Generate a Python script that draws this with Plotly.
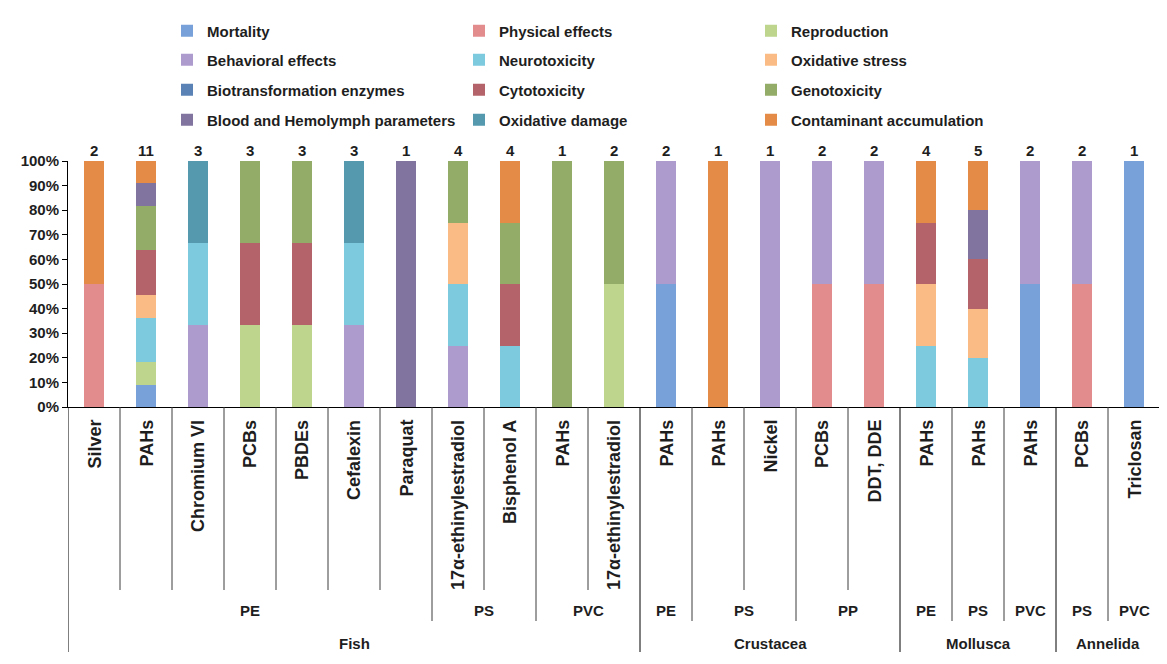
import plotly.graph_objects as go

# ---------------- data ----------------
contaminants = ["Silver", "PAHs", "Chromium VI", "PCBs", "PBDEs", "Cefalexin", "Paraquat",
                "17α-ethinylestradiol", "Bisphenol A", "PAHs", "17α-ethinylestradiol",
                "PAHs", "PAHs", "Nickel", "PCBs", "DDT, DDE",
                "PAHs", "PAHs", "PAHs", "PCBs", "Triclosan"]
polymers = ["PE", "PE", "PE", "PE", "PE", "PE", "PE", "PS", "PS", "PVC", "PVC",
            "PE", "PS", "PS", "PP", "PP", "PE", "PS", "PVC", "PS", "PVC"]
taxa = ["Fish"] * 11 + ["Crustacea"] * 5 + ["Mollusca"] * 3 + ["Annelida"] * 2

# number of studies per effect category for each bar
mortality =    [0, 1, 0, 0, 0, 0, 0, 0, 0, 0, 0, 1, 0, 0, 0, 0, 0, 0, 1, 0, 1]
physical =     [1, 0, 0, 0, 0, 0, 0, 0, 0, 0, 0, 0, 0, 0, 1, 1, 0, 0, 0, 1, 0]
reproduction = [0, 1, 0, 1, 1, 0, 0, 0, 0, 0, 1, 0, 0, 0, 0, 0, 0, 0, 0, 0, 0]
behavioral =   [0, 0, 1, 0, 0, 1, 0, 1, 0, 0, 0, 1, 0, 1, 1, 1, 0, 0, 1, 1, 0]
neurotox =     [0, 2, 1, 0, 0, 1, 0, 1, 1, 0, 0, 0, 0, 0, 0, 0, 1, 1, 0, 0, 0]
oxstress =     [0, 1, 0, 0, 0, 0, 0, 1, 0, 0, 0, 0, 0, 0, 0, 0, 1, 1, 0, 0, 0]
biotrans =     [0, 0, 0, 0, 0, 0, 0, 0, 0, 0, 0, 0, 0, 0, 0, 0, 0, 0, 0, 0, 0]
cytotox =      [0, 2, 0, 1, 1, 0, 0, 0, 1, 0, 0, 0, 0, 0, 0, 0, 1, 1, 0, 0, 0]
genotox =      [0, 2, 0, 1, 1, 0, 0, 1, 1, 1, 1, 0, 0, 0, 0, 0, 0, 0, 0, 0, 0]
blood =        [0, 1, 0, 0, 0, 0, 1, 0, 0, 0, 0, 0, 0, 0, 0, 0, 0, 1, 0, 0, 0]
oxdamage =     [0, 0, 1, 0, 0, 1, 0, 0, 0, 0, 0, 0, 0, 0, 0, 0, 0, 0, 0, 0, 0]
contaminant =  [1, 1, 0, 0, 0, 0, 0, 0, 1, 0, 0, 0, 1, 0, 0, 0, 1, 1, 0, 0, 0]

effect_names = ["Mortality", "Physical effects", "Reproduction",
                "Behavioral effects", "Neurotoxicity", "Oxidative stress",
                "Biotransformation enzymes", "Cytotoxicity", "Genotoxicity",
                "Blood and Hemolymph parameters", "Oxidative damage", "Contaminant accumulation"]
effect_values = [mortality, physical, reproduction, behavioral, neurotox, oxstress,
                 biotrans, cytotox, genotox, blood, oxdamage, contaminant]
effect_colors = ["#77a1d8", "#e38c8e", "#bdd58c",
                 "#ae9bce", "#7dc9de", "#fbbb85",
                 "#5b82b5", "#b5636a", "#93ac67",
                 "#81749f", "#5499ae", "#e38b47"]

# ---------------- layout constants ----------------
# the page body has an 8px margin, so the figure is drawn 8px right/down of the window origin
OFF = 8
W, H = 1167 - OFF, 664 - OFF
ML, MR, MT, MB = 68 - OFF, 7, 161 - OFF, 257
PW = W - ML - MR
PH = H - MT - MB


def py(p):
    """window pixel y -> paper y"""
    return (H - MB - (p - OFF)) / PH


def px(p):
    """window pixel x -> paper x"""
    return ((p - OFF) - ML) / PW


FONT = "Liberation Sans, Arial, sans-serif"
TXT = "#1e1e1e"

n = len(contaminants)
xs = list(range(n))
totals = [sum(v[i] for v in effect_values) for i in range(n)]

fig = go.Figure()
legends = ["legend", "legend2", "legend3", "legend4"]
for k, (name, vals, col) in enumerate(zip(effect_names, effect_values, effect_colors)):
    fig.add_trace(go.Bar(
        x=xs, y=vals, name=name, width=0.4,
        marker=dict(color=col, line=dict(width=0)),
        legend=legends[k // 3], hoverinfo="skip",
    ))

annotations = []
# totals above bars
for i, t in enumerate(totals):
    annotations.append(dict(x=i, y=100, xref="x", yref="y", text=f"<b>{t}</b>",
                            showarrow=False, yanchor="bottom", yshift=0,
                            font=dict(size=15, color=TXT, family=FONT)))
# contaminant labels (rotated)
for i, c in enumerate(contaminants):
    annotations.append(dict(x=i, y=py(418), xref="x", yref="paper", text=f"<b>{c}</b>",
                            showarrow=False, textangle=-90, yanchor="top", xanchor="center",
                            font=dict(size=18, color=TXT, family=FONT)))


def groups(labels):
    out = []
    start = 0
    for i in range(1, n + 1):
        if i == n or labels[i] != labels[start]:
            out.append((start, i - 1, labels[start]))
            start = i
    return out


poly_key = [f"{t}|{p}" for t, p in zip(taxa, polymers)]
for s, e, key in groups(poly_key):
    annotations.append(dict(x=(s + e) / 2, y=py(610), xref="x", yref="paper",
                            text=f"<b>{key.split('|')[1]}</b>", showarrow=False,
                            yanchor="middle", font=dict(size=15, color=TXT, family=FONT)))
for s, e, key in groups(taxa):
    annotations.append(dict(x=(s + e) / 2, y=py(643), xref="x", yref="paper",
                            text=f"<b>{key}</b>", showarrow=False,
                            yanchor="middle", font=dict(size=15, color=TXT, family=FONT)))

# separator lines
shapes = []
for b in range(0, n + 1):
    x = b - 0.5
    if b == 0 or b == n or taxa[b] != taxa[b - 1]:
        bottom = 652
    elif polymers[b] != polymers[b - 1]:
        bottom = 621
    else:
        bottom = 590
    shapes.append(dict(type="line", xref="x", yref="paper", x0=x, x1=x, y0=0, y1=py(bottom),
                       line=dict(color="#000000" if bottom == 652 else "#3c3c3c", width=1)))

fig.update_layout(
    width=W, height=H,
    margin=dict(l=ML, r=MR, t=MT, b=MB, autoexpand=False),
    paper_bgcolor="white", plot_bgcolor="white",
    barmode="stack", barnorm="percent",
    bargap=0.6,
    annotations=annotations, shapes=shapes,
    font=dict(family=FONT, color=TXT),
    xaxis=dict(range=[-0.5, n - 0.5], showticklabels=False, ticks="", showgrid=False,
               zeroline=False, showline=True, linecolor="black", linewidth=1),
    yaxis=dict(range=[0, 100], tickvals=list(range(0, 101, 10)),
               ticktext=[f"{v}%" for v in range(0, 101, 10)],
               tickfont=dict(size=15, color=TXT, family=FONT, weight="bold"),
               ticks="outside", ticklen=5, tickcolor="black",
               showgrid=False, zeroline=False, showline=True, linecolor="black", linewidth=1),
    showlegend=True,
)

leg_common = dict(orientation="h", x=px(167), xanchor="left",
                  yanchor="middle", entrywidth=247, entrywidthmode="pixels",
                  font=dict(size=15, color=TXT, family=FONT, weight="bold"),
                  bgcolor="rgba(0,0,0,0)", traceorder="normal")
rows_px = [31, 60, 90, 120]
fig.update_layout(
    legend=dict(**leg_common, y=py(rows_px[0])),
    legend2=dict(**leg_common, y=py(rows_px[1])),
    legend3=dict(**leg_common, y=py(rows_px[2])),
    legend4=dict(**leg_common, y=py(rows_px[3])),
)

fig.write_html("out.html")
